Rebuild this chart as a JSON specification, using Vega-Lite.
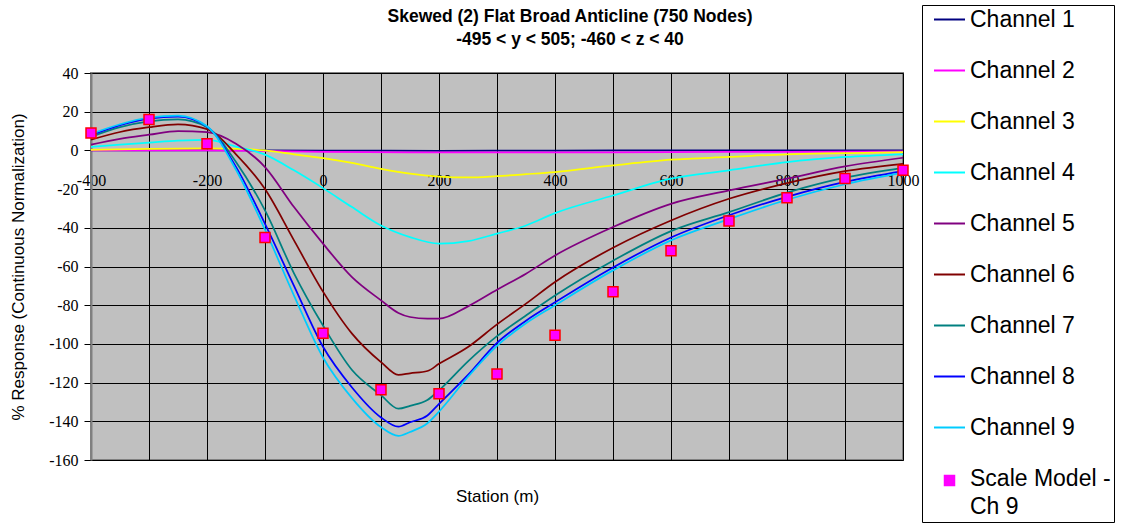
{
  "$schema": "https://vega.github.io/schema/vega-lite/v6.json",
  "width": 812,
  "height": 387,
  "autosize": {"type": "none"},
  "padding": {"left": 91, "top": 73, "right": 218, "bottom": 63},
  "background": "white",
  "title": {
    "text": ["Skewed (2) Flat Broad Anticline (750 Nodes)", "-495 < y < 505; -460 < z < 40"],
    "font": "Liberation Sans",
    "fontSize": 17.5,
    "fontWeight": "bold",
    "color": "black",
    "anchor": "middle",
    "frame": "group",
    "dx": 73,
    "lineHeight": 23,
    "offset": -44
  },
  "config": {
    "view": {"fill": "#C0C0C0", "stroke": "#808080", "strokeWidth": 2}
  },
  "encoding": {
    "x": {
      "field": "station",
      "type": "quantitative",
      "scale": {"domain": [-400, 1000], "nice": false, "zero": false},
      "axis": {
        "values": [-400, -300, -200, -100, 0, 100, 200, 300, 400, 500, 600, 700, 800, 900, 1000],
        "labelExpr": "datum.value % 200 === 0 ? '' + datum.value : ''",
        "offset": -310,
        "grid": true,
        "gridColor": "black",
        "gridOpacity": 1,
        "gridWidth": 1,
        "domain": true,
        "domainColor": "black",
        "ticks": true,
        "tickColor": "black",
        "tickSize": 5,
        "labelFont": "Liberation Serif",
        "labelFontSize": 16,
        "labelColor": "black",
        "labelPadding": 17,
        "labelFlush": false,
        "labelOverlap": false,
        "title": "Station (m)",
        "titleFont": "Liberation Sans",
        "titleFontSize": 17,
        "titleFontWeight": "normal",
        "titleColor": "black",
        "titleY": 346,
        "titleBaseline": "middle"
      }
    },
    "y": {
      "field": "response",
      "type": "quantitative",
      "scale": {"domain": [-160, 40], "nice": false, "zero": false},
      "axis": {
        "values": [-160, -140, -120, -100, -80, -60, -40, -20, 0, 20, 40],
        "labelExpr": "'' + datum.value",
        "labelOverlap": false,
        "grid": true,
        "gridColor": "black",
        "gridOpacity": 1,
        "gridWidth": 1,
        "domainColor": "#808080",
        "domainWidth": 2,
        "tickColor": "black",
        "tickSize": 7,
        "labelFont": "Liberation Serif",
        "labelFontSize": 16,
        "labelColor": "black",
        "labelPadding": 6,
        "title": "% Response (Continuous Normalization)",
        "titleFont": "Liberation Sans",
        "titleFontSize": 17,
        "titleFontWeight": "normal",
        "titleColor": "black",
        "titleX": -73,
        "titleBaseline": "middle"
      }
    }
  },
  "layer": [
    {
      "data": {"values": [
        {"channel": "Channel 1", "station": -400, "response": 0},
        {"channel": "Channel 1", "station": -200, "response": 0},
        {"channel": "Channel 1", "station": 0, "response": -0.1},
        {"channel": "Channel 1", "station": 200, "response": -0.2},
        {"channel": "Channel 1", "station": 400, "response": -0.1},
        {"channel": "Channel 1", "station": 600, "response": 0},
        {"channel": "Channel 1", "station": 800, "response": 0},
        {"channel": "Channel 1", "station": 1000, "response": 0},

        {"channel": "Channel 2", "station": -400, "response": 0},
        {"channel": "Channel 2", "station": -200, "response": 0},
        {"channel": "Channel 2", "station": -100, "response": -0.3},
        {"channel": "Channel 2", "station": 0, "response": -0.7},
        {"channel": "Channel 2", "station": 200, "response": -1},
        {"channel": "Channel 2", "station": 400, "response": -1},
        {"channel": "Channel 2", "station": 600, "response": -0.9},
        {"channel": "Channel 2", "station": 800, "response": -0.7},
        {"channel": "Channel 2", "station": 1000, "response": -0.5},

        {"channel": "Channel 3", "station": -400, "response": 0.3},
        {"channel": "Channel 3", "station": -300, "response": 0.8},
        {"channel": "Channel 3", "station": -200, "response": 1},
        {"channel": "Channel 3", "station": -150, "response": 0.8},
        {"channel": "Channel 3", "station": -100, "response": 0},
        {"channel": "Channel 3", "station": -50, "response": -2},
        {"channel": "Channel 3", "station": 0, "response": -4},
        {"channel": "Channel 3", "station": 50, "response": -6.5},
        {"channel": "Channel 3", "station": 100, "response": -9.5},
        {"channel": "Channel 3", "station": 150, "response": -12},
        {"channel": "Channel 3", "station": 200, "response": -13.5},
        {"channel": "Channel 3", "station": 250, "response": -14},
        {"channel": "Channel 3", "station": 300, "response": -13.3},
        {"channel": "Channel 3", "station": 350, "response": -12.3},
        {"channel": "Channel 3", "station": 400, "response": -11.2},
        {"channel": "Channel 3", "station": 500, "response": -7.8},
        {"channel": "Channel 3", "station": 600, "response": -4.8},
        {"channel": "Channel 3", "station": 700, "response": -3.4},
        {"channel": "Channel 3", "station": 800, "response": -2},
        {"channel": "Channel 3", "station": 900, "response": -1.4},
        {"channel": "Channel 3", "station": 1000, "response": -0.9},

        {"channel": "Channel 4", "station": -400, "response": 1.8},
        {"channel": "Channel 4", "station": -350, "response": 3},
        {"channel": "Channel 4", "station": -300, "response": 4},
        {"channel": "Channel 4", "station": -250, "response": 5},
        {"channel": "Channel 4", "station": -200, "response": 5.5},
        {"channel": "Channel 4", "station": -150, "response": 2},
        {"channel": "Channel 4", "station": -100, "response": -2.2},
        {"channel": "Channel 4", "station": -50, "response": -10.3},
        {"channel": "Channel 4", "station": 0, "response": -19.5},
        {"channel": "Channel 4", "station": 50, "response": -29.3},
        {"channel": "Channel 4", "station": 100, "response": -38.8},
        {"channel": "Channel 4", "station": 150, "response": -44.8},
        {"channel": "Channel 4", "station": 200, "response": -48.2},
        {"channel": "Channel 4", "station": 250, "response": -46.9},
        {"channel": "Channel 4", "station": 300, "response": -43},
        {"channel": "Channel 4", "station": 350, "response": -38.8},
        {"channel": "Channel 4", "station": 400, "response": -32.4},
        {"channel": "Channel 4", "station": 500, "response": -23.3},
        {"channel": "Channel 4", "station": 600, "response": -14.6},
        {"channel": "Channel 4", "station": 700, "response": -10.3},
        {"channel": "Channel 4", "station": 800, "response": -6},
        {"channel": "Channel 4", "station": 900, "response": -3.4},
        {"channel": "Channel 4", "station": 1000, "response": -2},

        {"channel": "Channel 5", "station": -400, "response": 3},
        {"channel": "Channel 5", "station": -350, "response": 6},
        {"channel": "Channel 5", "station": -300, "response": 8.1},
        {"channel": "Channel 5", "station": -250, "response": 10},
        {"channel": "Channel 5", "station": -200, "response": 9.5},
        {"channel": "Channel 5", "station": -150, "response": 3.5},
        {"channel": "Channel 5", "station": -100, "response": -8.6},
        {"channel": "Channel 5", "station": -50, "response": -29.3},
        {"channel": "Channel 5", "station": 0, "response": -48.2},
        {"channel": "Channel 5", "station": 50, "response": -65.5},
        {"channel": "Channel 5", "station": 100, "response": -77.5},
        {"channel": "Channel 5", "station": 130, "response": -84},
        {"channel": "Channel 5", "station": 150, "response": -86.1},
        {"channel": "Channel 5", "station": 180, "response": -87},
        {"channel": "Channel 5", "station": 200, "response": -87},
        {"channel": "Channel 5", "station": 250, "response": -80.6},
        {"channel": "Channel 5", "station": 300, "response": -72},
        {"channel": "Channel 5", "station": 350, "response": -63.7},
        {"channel": "Channel 5", "station": 400, "response": -54.3},
        {"channel": "Channel 5", "station": 500, "response": -39.6},
        {"channel": "Channel 5", "station": 600, "response": -27.6},
        {"channel": "Channel 5", "station": 700, "response": -20.7},
        {"channel": "Channel 5", "station": 800, "response": -14.6},
        {"channel": "Channel 5", "station": 900, "response": -8.3},
        {"channel": "Channel 5", "station": 1000, "response": -3.8},

        {"channel": "Channel 6", "station": -400, "response": 5.5},
        {"channel": "Channel 6", "station": -350, "response": 9.5},
        {"channel": "Channel 6", "station": -300, "response": 12},
        {"channel": "Channel 6", "station": -250, "response": 13.5},
        {"channel": "Channel 6", "station": -200, "response": 11},
        {"channel": "Channel 6", "station": -150, "response": -2},
        {"channel": "Channel 6", "station": -100, "response": -20},
        {"channel": "Channel 6", "station": -50, "response": -46.5},
        {"channel": "Channel 6", "station": 0, "response": -73},
        {"channel": "Channel 6", "station": 50, "response": -94.7},
        {"channel": "Channel 6", "station": 100, "response": -109.4},
        {"channel": "Channel 6", "station": 130, "response": -116},
        {"channel": "Channel 6", "station": 150, "response": -115.2},
        {"channel": "Channel 6", "station": 180, "response": -114},
        {"channel": "Channel 6", "station": 200, "response": -110.3},
        {"channel": "Channel 6", "station": 250, "response": -101.6},
        {"channel": "Channel 6", "station": 300, "response": -89.9},
        {"channel": "Channel 6", "station": 350, "response": -79.2},
        {"channel": "Channel 6", "station": 400, "response": -68},
        {"channel": "Channel 6", "station": 500, "response": -50.3},
        {"channel": "Channel 6", "station": 600, "response": -36.2},
        {"channel": "Channel 6", "station": 700, "response": -25},
        {"channel": "Channel 6", "station": 800, "response": -16.9},
        {"channel": "Channel 6", "station": 900, "response": -10.7},
        {"channel": "Channel 6", "station": 1000, "response": -6.9},

        {"channel": "Channel 7", "station": -400, "response": 7},
        {"channel": "Channel 7", "station": -350, "response": 12},
        {"channel": "Channel 7", "station": -300, "response": 15},
        {"channel": "Channel 7", "station": -250, "response": 16},
        {"channel": "Channel 7", "station": -200, "response": 12},
        {"channel": "Channel 7", "station": -150, "response": -6},
        {"channel": "Channel 7", "station": -100, "response": -31},
        {"channel": "Channel 7", "station": -50, "response": -63.5},
        {"channel": "Channel 7", "station": 0, "response": -90.5},
        {"channel": "Channel 7", "station": 50, "response": -113.5},
        {"channel": "Channel 7", "station": 100, "response": -126.5},
        {"channel": "Channel 7", "station": 130, "response": -133.5},
        {"channel": "Channel 7", "station": 150, "response": -132},
        {"channel": "Channel 7", "station": 180, "response": -129},
        {"channel": "Channel 7", "station": 200, "response": -124},
        {"channel": "Channel 7", "station": 250, "response": -109},
        {"channel": "Channel 7", "station": 300, "response": -96},
        {"channel": "Channel 7", "station": 350, "response": -85.3},
        {"channel": "Channel 7", "station": 400, "response": -75},
        {"channel": "Channel 7", "station": 500, "response": -57},
        {"channel": "Channel 7", "station": 600, "response": -41.7},
        {"channel": "Channel 7", "station": 700, "response": -31.9},
        {"channel": "Channel 7", "station": 800, "response": -21.8},
        {"channel": "Channel 7", "station": 900, "response": -14.1},
        {"channel": "Channel 7", "station": 1000, "response": -9},

        {"channel": "Channel 8", "station": -400, "response": 7.8},
        {"channel": "Channel 8", "station": -350, "response": 13},
        {"channel": "Channel 8", "station": -300, "response": 16.4},
        {"channel": "Channel 8", "station": -250, "response": 17.4},
        {"channel": "Channel 8", "station": -200, "response": 12.3},
        {"channel": "Channel 8", "station": -150, "response": -8.5},
        {"channel": "Channel 8", "station": -100, "response": -38},
        {"channel": "Channel 8", "station": -50, "response": -70},
        {"channel": "Channel 8", "station": 0, "response": -101.5},
        {"channel": "Channel 8", "station": 50, "response": -122.5},
        {"channel": "Channel 8", "station": 100, "response": -138},
        {"channel": "Channel 8", "station": 130, "response": -142.8},
        {"channel": "Channel 8", "station": 150, "response": -140.5},
        {"channel": "Channel 8", "station": 180, "response": -137},
        {"channel": "Channel 8", "station": 200, "response": -131},
        {"channel": "Channel 8", "station": 250, "response": -116},
        {"channel": "Channel 8", "station": 300, "response": -99.5},
        {"channel": "Channel 8", "station": 350, "response": -88},
        {"channel": "Channel 8", "station": 400, "response": -78.5},
        {"channel": "Channel 8", "station": 500, "response": -60.5},
        {"channel": "Channel 8", "station": 600, "response": -45},
        {"channel": "Channel 8", "station": 700, "response": -33.5},
        {"channel": "Channel 8", "station": 800, "response": -24},
        {"channel": "Channel 8", "station": 900, "response": -16.3},
        {"channel": "Channel 8", "station": 1000, "response": -10.7},

        {"channel": "Channel 9", "station": -400, "response": 8.5},
        {"channel": "Channel 9", "station": -350, "response": 13.5},
        {"channel": "Channel 9", "station": -300, "response": 17},
        {"channel": "Channel 9", "station": -250, "response": 18},
        {"channel": "Channel 9", "station": -200, "response": 12.5},
        {"channel": "Channel 9", "station": -150, "response": -10},
        {"channel": "Channel 9", "station": -100, "response": -41},
        {"channel": "Channel 9", "station": -50, "response": -75},
        {"channel": "Channel 9", "station": 0, "response": -107},
        {"channel": "Channel 9", "station": 50, "response": -128},
        {"channel": "Channel 9", "station": 100, "response": -143},
        {"channel": "Channel 9", "station": 130, "response": -147.5},
        {"channel": "Channel 9", "station": 150, "response": -145.5},
        {"channel": "Channel 9", "station": 180, "response": -141},
        {"channel": "Channel 9", "station": 200, "response": -135},
        {"channel": "Channel 9", "station": 250, "response": -117},
        {"channel": "Channel 9", "station": 300, "response": -101},
        {"channel": "Channel 9", "station": 350, "response": -89.3},
        {"channel": "Channel 9", "station": 400, "response": -80},
        {"channel": "Channel 9", "station": 500, "response": -62},
        {"channel": "Channel 9", "station": 600, "response": -46.5},
        {"channel": "Channel 9", "station": 700, "response": -35.5},
        {"channel": "Channel 9", "station": 800, "response": -25.5},
        {"channel": "Channel 9", "station": 900, "response": -17.5},
        {"channel": "Channel 9", "station": 1000, "response": -11.5}
      ]},
      "mark": {"type": "line", "strokeWidth": 1.75, "interpolate": "monotone"},
      "encoding": {
        "color": {
          "field": "channel",
          "type": "nominal",
          "scale": {
            "domain": ["Channel 1", "Channel 2", "Channel 3", "Channel 4", "Channel 5", "Channel 6", "Channel 7", "Channel 8", "Channel 9", "Scale Model - Ch 9"],
            "range": ["#000080", "#FF00FF", "#FFFF00", "#00FFFF", "#800080", "#800000", "#008080", "#0000FF", "#00CCFF", "#FF00FF"]
          },
          "legend": {
            "orient": "none",
            "legendX": 831,
            "legendY": -68,
            "direction": "vertical",
            "title": null,
            "strokeColor": "black",
            "fillColor": "white",
            "padding": 3,
            "symbolOffset": 13,
            "symbolType": "stroke",
            "symbolSize": 961,
            "symbolStrokeWidth": 2,
            "labelFont": "Liberation Sans",
            "labelFontSize": 23,
            "labelColor": "black",
            "labelOffset": 9,
            "labelLimit": 300,
            "rowPadding": 27,
            "labelExpr": "datum.label === 'Scale Model - Ch 9' ? ['Scale Model -', 'Ch 9'] : datum.label",
            "encode": {
              "symbols": {"update": {
                "shape": {"signal": "datum.value === 'Scale Model - Ch 9' ? 'square' : 'stroke'"},
                "size": {"signal": "datum.value === 'Scale Model - Ch 9' ? 100 : 961"},
                "fill": {"signal": "datum.value === 'Scale Model - Ch 9' ? '#FF00FF' : 'transparent'"},
                "stroke": {"signal": "datum.value === 'Scale Model - Ch 9' ? '#FF0000' : scale('color', datum.value)"},
                "strokeWidth": {"signal": "datum.value === 'Scale Model - Ch 9' ? 1.5 : 2"}
              }},
              "labels": {"update": {
                "lineHeight": {"value": 28},
                "baseline": {"signal": "datum.value === 'Scale Model - Ch 9' ? 'top' : 'middle'"},
                "dy": {"signal": "datum.value === 'Scale Model - Ch 9' ? -13 : 0"}
              }}
            }
          }
        }
      }
    },
    {
      "data": {"values": [
        {"station": -400, "response": 9},
        {"station": -300, "response": 16},
        {"station": -200, "response": 3.5},
        {"station": -100, "response": -45},
        {"station": 0, "response": -94.5},
        {"station": 100, "response": -123.7},
        {"station": 200, "response": -125.8},
        {"station": 300, "response": -115.6},
        {"station": 400, "response": -95.5},
        {"station": 500, "response": -73},
        {"station": 600, "response": -51.8},
        {"station": 700, "response": -36.5},
        {"station": 800, "response": -24.5},
        {"station": 900, "response": -14.5},
        {"station": 1000, "response": -10.2}
      ]},
      "mark": {"type": "square", "size": 100, "filled": true, "fill": "#FF00FF", "stroke": "#FF0000", "strokeWidth": 1.5, "opacity": 1}
    }
  ]
}
